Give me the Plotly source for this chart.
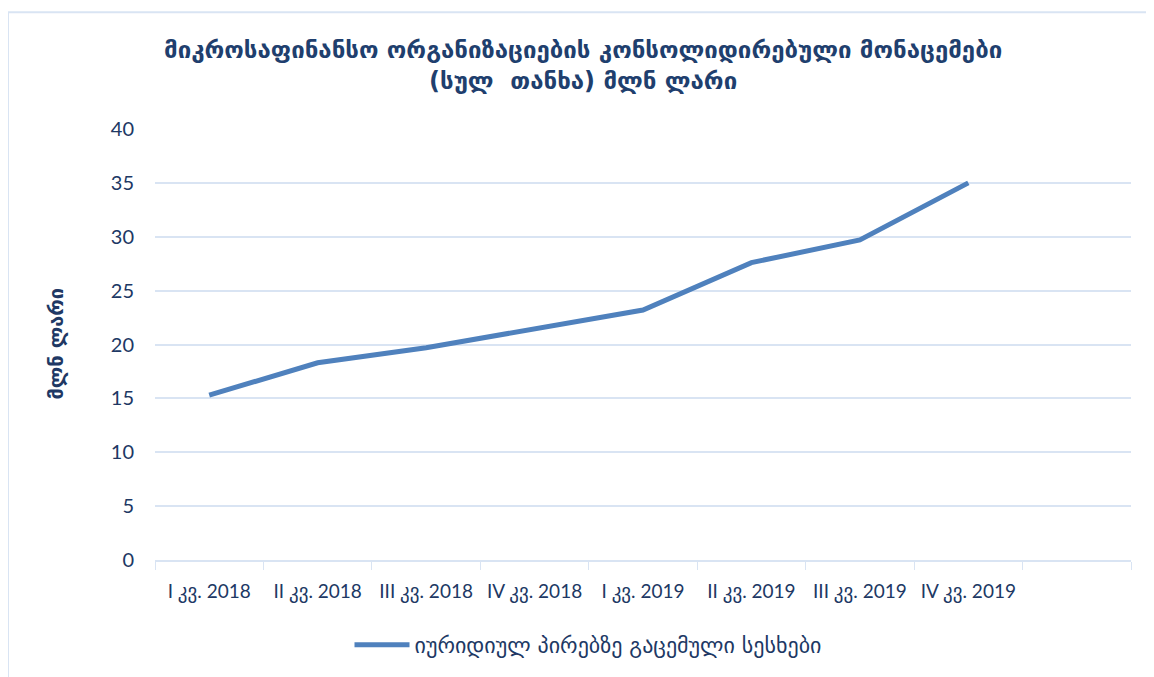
import plotly.graph_objects as go

categories = ["I კვ. 2018", "II კვ. 2018", "III კვ. 2018", "IV კვ. 2018",
              "I კვ. 2019", "II კვ. 2019", "III კვ. 2019", "IV კვ. 2019", " "]
values = [15.3, 18.3, 19.7, 21.4, 23.2, 27.6, 29.7, 35.0]
series_name = "იურიდიულ პირებზე გაცემული სესხები"
title_lines = ["მიკროსაფინანსო ორგანიზაციების კონსოლიდირებული მონაცემები",
               "(სულ  თანხა) მლნ ლარი"]
y_title = "მლნ ლარი"
y_ticks = [0, 5, 10, 15, 20, 25, 30, 35, 40]

OFF = 8  # page body margin
W, H = 1154 - OFF, 677 - OFF
L, R, T, B = 155 - OFF, 1131 - OFF, 129 - OFF, 561 - OFF
text_col = "#203864"
grid_col = "#d9e4f3"
font_fam = "Lato, 'DejaVu Sans', sans-serif"
geo_fam = "'DejaVu Sans', sans-serif"


def px_x(p):
    return (p - OFF - L) / (R - L)


def px_y(p):
    return (B - (p - OFF)) / (B - T)


fig = go.Figure()
fig.add_trace(go.Scatter(
    x=categories[:len(values)], y=values, mode="lines", name=series_name,
    line=dict(color="#4f81bd", width=5),
))

fig.update_layout(
    width=W, height=H,
    margin=dict(l=L, r=W - R, t=T, b=H - B),
    paper_bgcolor="white", plot_bgcolor="white",
    font=dict(family=font_fam, color=text_col, size=20),
    showlegend=True,
    legend=dict(orientation="h", x=px_x(588), xanchor="center", y=px_y(645), yanchor="middle",
                font=dict(size=22, color=text_col, family=geo_fam),
                itemwidth=55),
    xaxis=dict(type="category", categoryorder="array", categoryarray=categories,
               range=[-0.5, len(categories) - 0.5],
               showgrid=False, showline=True, linecolor=grid_col, linewidth=1.5,
               ticks="outside", tickson="boundaries", ticklen=8, tickcolor=grid_col,
               tickangle=0, ticklabelstandoff=13,
               tickfont=dict(size=19, color=text_col), zeroline=False),
    yaxis=dict(range=[0, 40], tickvals=y_ticks, showgrid=True, gridcolor=grid_col,
               gridwidth=1.5, zeroline=False, showline=False, ticks="",
               tickfont=dict(size=20, color=text_col), ticklabelstandoff=20),
    annotations=[
        dict(text="<b>" + title_lines[0] + "<br>" + title_lines[1] + "</b>",
             xref="paper", yref="paper", x=px_x(583), y=px_y(65), xanchor="center",
             yanchor="middle", showarrow=False, align="center",
             font=dict(size=24, color="#1f3f6e", family=geo_fam)),
        dict(text="<b>" + y_title + "</b>", textangle=-90,
             xref="paper", yref="paper", x=px_x(55), y=px_y(345), xanchor="center",
             yanchor="middle", showarrow=False,
             font=dict(size=20, color=text_col, family=geo_fam)),
    ],
    shapes=[
        dict(type="line", xref="paper", yref="paper", x0=px_x(8), x1=px_x(8),
             y0=px_y(12), y1=px_y(690), line=dict(color=grid_col, width=2)),
        dict(type="line", xref="paper", yref="paper", x0=px_x(8), x1=px_x(1170),
             y0=px_y(12), y1=px_y(12), line=dict(color=grid_col, width=2)),
    ],
)

fig.write_html("out.html")
